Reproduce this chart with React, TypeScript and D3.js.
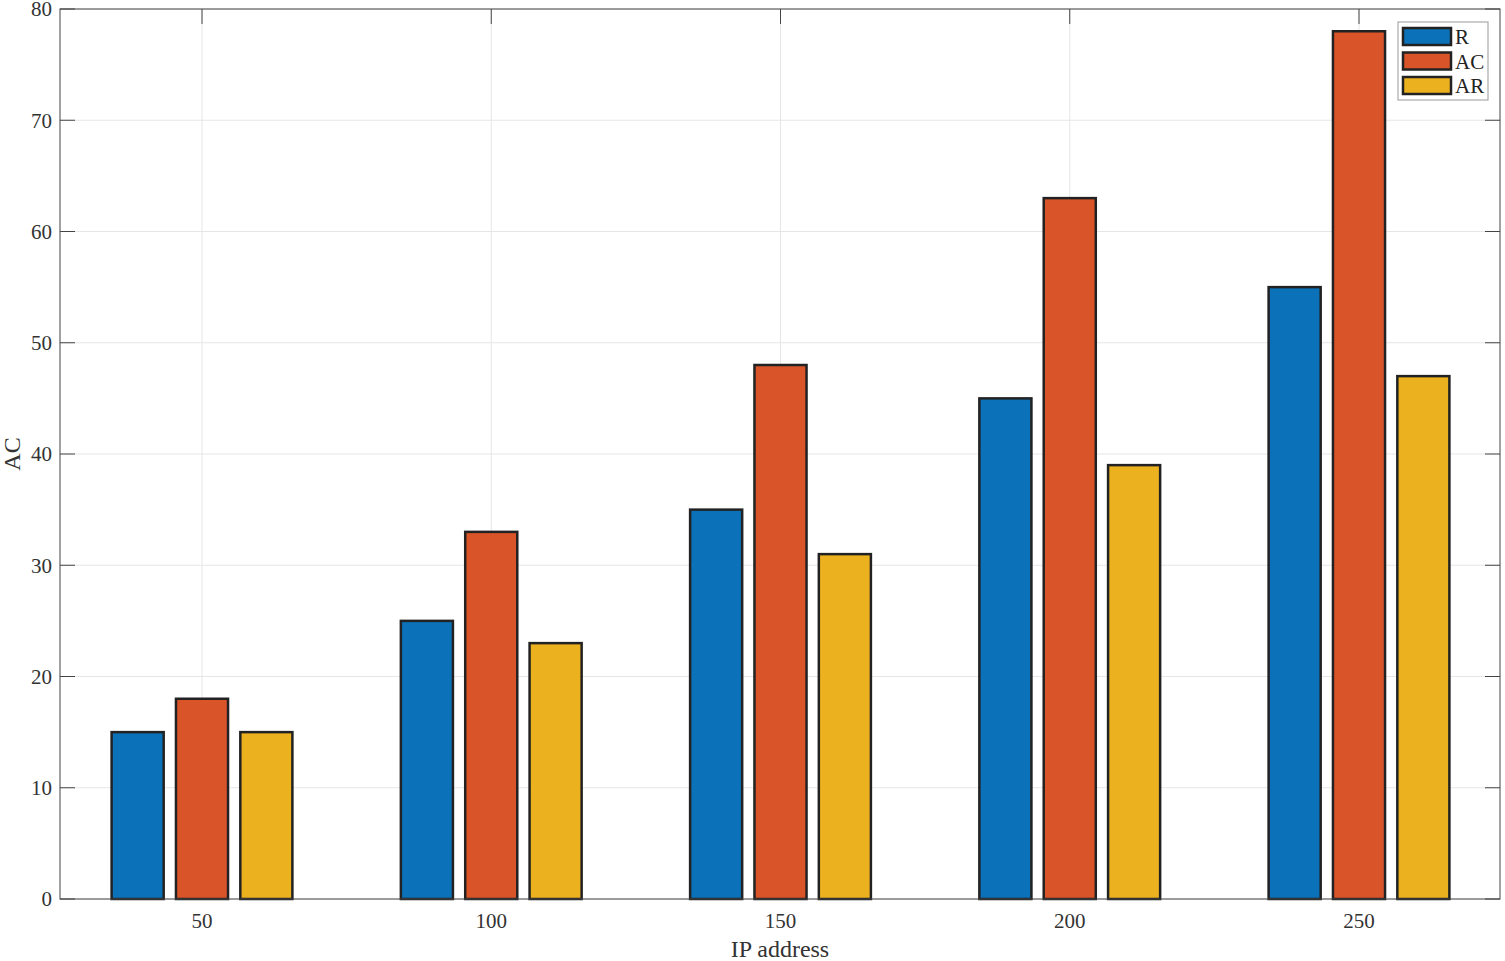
import React from "react";
import * as d3 from "d3";

const categories = ["50", "100", "150", "200", "250"];
const seriesNames = ["R", "AC", "AR"];
const seriesR = [15, 25, 35, 45, 55];
const seriesAC = [18, 33, 48, 63, 78];
const seriesAR = [15, 23, 31, 39, 47];
const colors = ["#0b72b9", "#d95429", "#ecb11f"];
const yTicks = [0, 10, 20, 30, 40, 50, 60, 70, 80];

const W = 1505, H = 961;
const L = 60, R = 1500, T = 9, B = 899;

export default function App() {
  const series = [seriesR, seriesAC, seriesAR];
  const x = d3.scaleLinear().domain([1, 5]).range([202, 1359]);
  const y = d3.scaleLinear().domain([0, 80]).range([B, T]);
  const step = x(2) - x(1);
  const barOffset = step * 0.2225;
  const barW = step * 0.18;
  const font = "'Liberation Serif', 'Times New Roman', serif";
  const txt = "#333333";
  return (
    <div style={{ position: "absolute", left: 0, top: 0 }}>
      <svg width={W} height={H} style={{ display: "block" }}>
        <rect x={0} y={0} width={W} height={H} fill="#fff" />
        {/* grid */}
        {yTicks.map((t) => (
          <line key={"gy" + t} x1={L} x2={R} y1={y(t)} y2={y(t)} stroke="#e6e6e6" strokeWidth={1} />
        ))}
        {categories.map((c, i) => (
          <line key={"gx" + c} x1={x(i + 1)} x2={x(i + 1)} y1={T} y2={B} stroke="#e6e6e6" strokeWidth={1} />
        ))}
        {/* bars */}
        {series.map((s, si) =>
          s.map((v, i) => {
            const cx = x(i + 1) + (si - 1) * barOffset;
            return (
              <rect
                key={si + "-" + i}
                x={cx - barW / 2}
                y={y(v)}
                width={barW}
                height={y(0) - y(v)}
                fill={colors[si]}
                stroke="#222"
                strokeWidth={2.5}
              />
            );
          })
        )}
        {/* axes box */}
        <rect x={L} y={T} width={R - L} height={B - T} fill="none" stroke="#444" strokeWidth={1} />
        {yTicks.map((t) => (
          <g key={"yt" + t}>
            <line x1={L} x2={L + 15} y1={y(t)} y2={y(t)} stroke="#444" />
            <line x1={R - 15} x2={R} y1={y(t)} y2={y(t)} stroke="#444" />
            <text x={L - 8} y={y(t)} dy="0.35em" textAnchor="end" fontFamily={font} fontSize={21} fill={txt}>
              {t}
            </text>
          </g>
        ))}
        {categories.map((c, i) => (
          <g key={"xt" + c}>
            <line x1={x(i + 1)} x2={x(i + 1)} y1={T} y2={T + 15} stroke="#444" />
            <text x={x(i + 1)} y={928} textAnchor="middle" fontFamily={font} fontSize={21} fill={txt}>
              {c}
            </text>
          </g>
        ))}
        <text x={(L + R) / 2} y={957} textAnchor="middle" fontFamily={font} fontSize={24} fill={txt}>
          IP address
        </text>
        <text
          transform={`translate(20, ${(T + B) / 2}) rotate(-90)`}
          textAnchor="middle"
          fontFamily={font}
          fontSize={24}
          fill={txt}
        >
          AC
        </text>
        {/* legend */}
        <rect x={1398} y={22} width={90} height={78} fill="#fff" stroke="#999" strokeWidth={1} />
        {seriesNames.map((n, i) => (
          <g key={"lg" + n}>
            <rect x={1403} y={28 + i * 24.5} width={48} height={17} fill={colors[i]} stroke="#222" strokeWidth={2.5} />
            <text x={1455} y={37 + i * 24.5} dy="0.35em" fontFamily={font} fontSize={21} fill="#222">
              {n}
            </text>
          </g>
        ))}
      </svg>
    </div>
  );
}
